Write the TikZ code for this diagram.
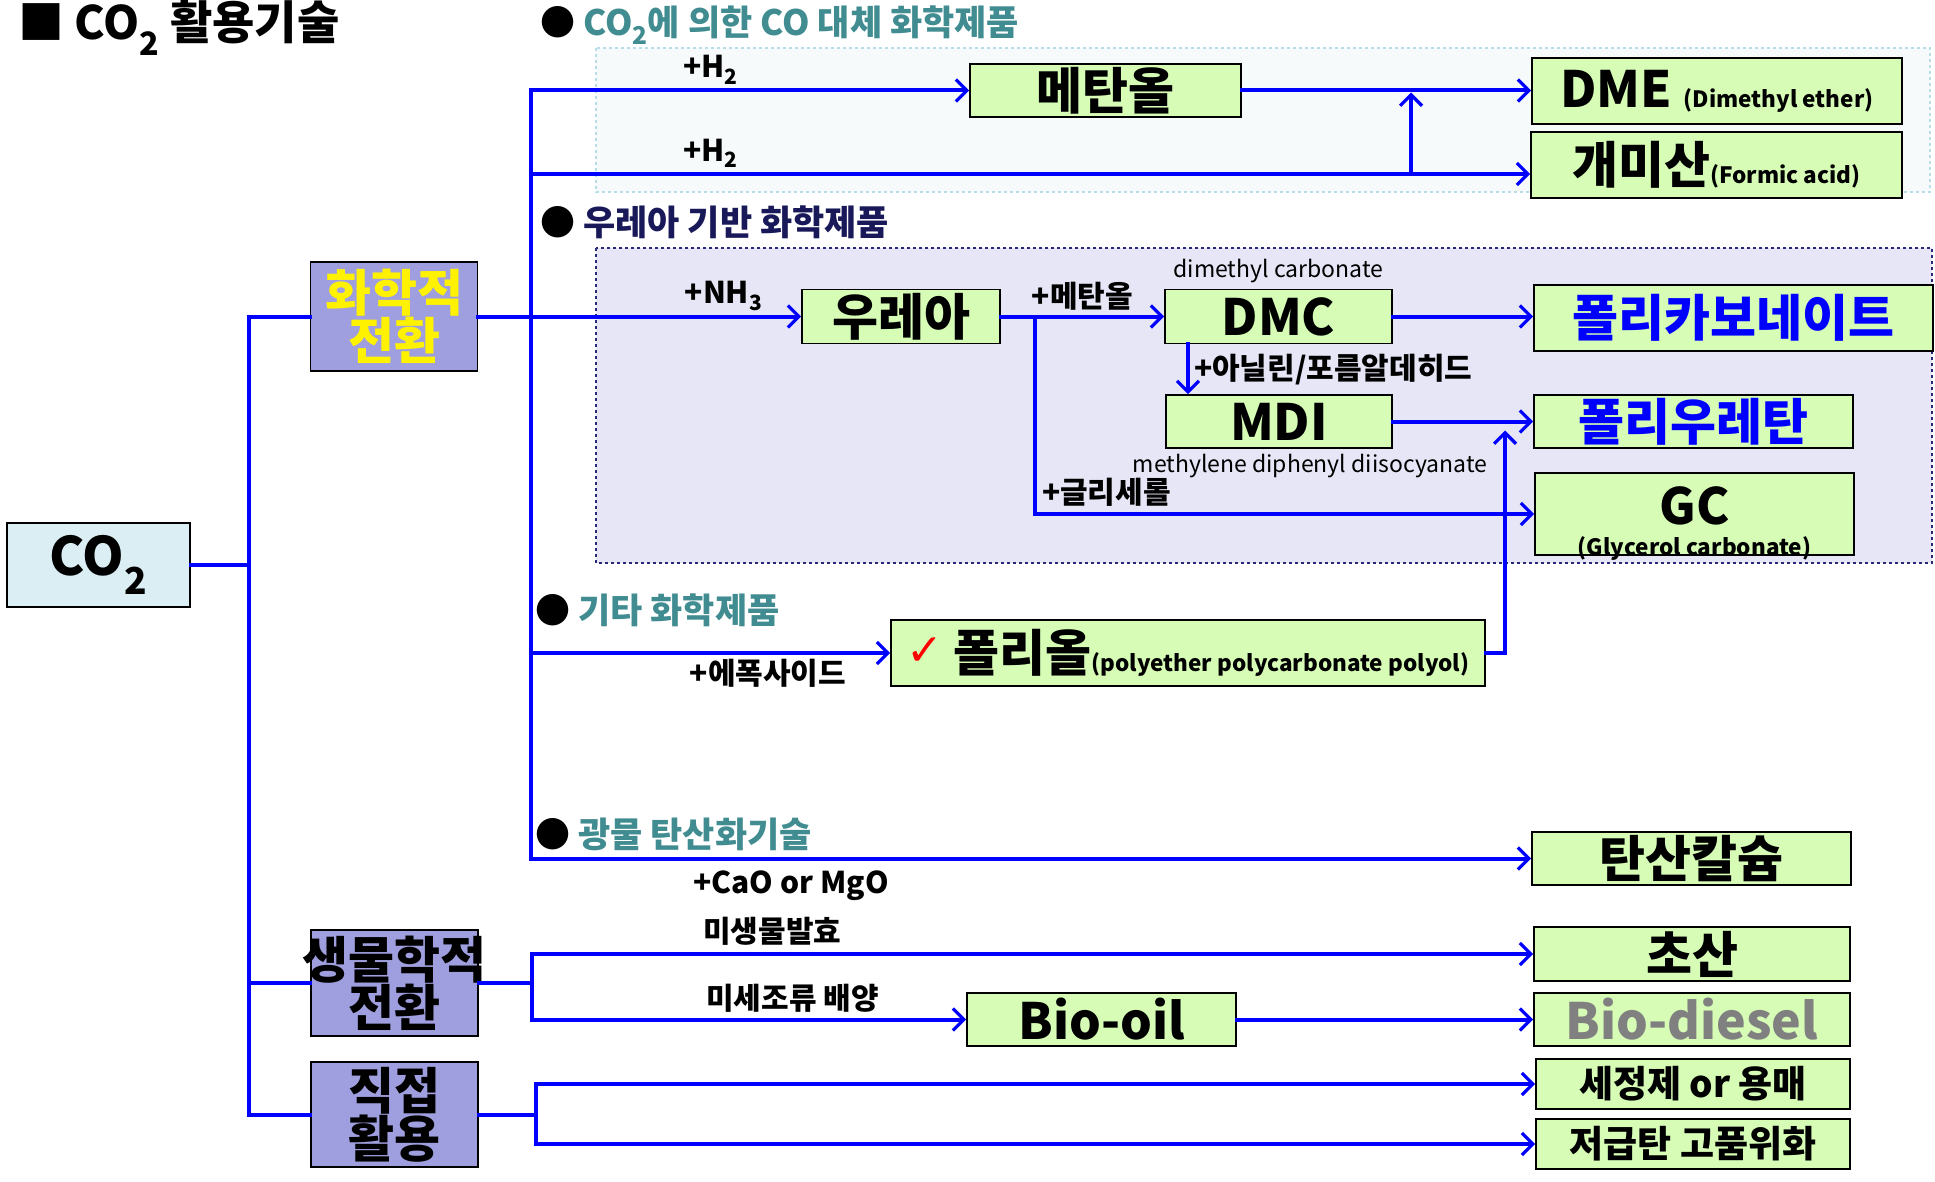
\documentclass[tikz,border=0pt]{standalone}
\usepackage{fontspec}
\setmainfont{Noto Sans CJK KR}
\newfontfamily\symfont{DejaVu Sans}
\usepackage{xcolor}
\usetikzlibrary{arrows.meta,positioning,calc}

\definecolor{boxgreen}{RGB}{214,252,182}
\definecolor{catblue}{RGB}{159,159,223}
\definecolor{co2cyan}{RGB}{218,238,243}
\definecolor{zoneA}{RGB}{246,250,251}
\definecolor{zoneAline}{RGB}{183,221,232}
\definecolor{zoneB}{RGB}{230,230,246}
\definecolor{zoneBline}{RGB}{40,40,120}
\definecolor{headteal}{RGB}{64,140,145}
\definecolor{headnavy}{RGB}{25,25,90}

\newcommand{\bigtxt}{\fontsize{50}{58}\selectfont\bfseries}
\newcommand{\midtxt}{\fontsize{37}{42}\selectfont\bfseries}
\newcommand{\smalltxt}{\fontsize{22.5}{26}\selectfont\bfseries}

\begin{document}
\begin{tikzpicture}[x=1pt,y=-1pt,
  box/.style={rectangle,draw,line width=1.8pt,fill=boxgreen,inner sep=0pt,align=center},
  catbox/.style={rectangle,draw,line width=1.8pt,fill=catblue,inner sep=0pt,align=center,minimum width=167pt},
  line/.style={blue,line width=4pt,line cap=rect},
  arr/.style={line,-{Straight Barb[length=11pt,width=22pt,line width=3.2pt]}},
  lbl/.style={font=\fontsize{30}{34}\selectfont\bfseries,text=black,inner sep=0pt},
  note/.style={font=\fontsize{23}{27}\selectfont,inner sep=0pt},
  head/.style={font=\fontsize{35}{40}\selectfont\bfseries,anchor=west,inner sep=0pt}
]
\useasboundingbox (0,0) rectangle (1935,1182);

\draw[zoneAline,fill=zoneA,line width=1.5pt,dashed] (596,48) rectangle (1930,192);
\draw[zoneBline,fill=zoneB,line width=1.5pt,dashed] (596,248) rectangle (1932,563);

\node[head,font=\fontsize{46}{52}\selectfont\bfseries] (title) at (18,28) {■ CO\textsubscript{2} 활용기술};
\node[head] (hco) at (540,25) {● \textcolor{headteal}{CO\textsubscript{2}에 의한 CO 대체 화학제품}};
\node[head] (hurea) at (540,222) {● \textcolor{headnavy}{우레아 기반 화학제품}};
\node[head] (hetc) at (535,610) {● \textcolor{headteal}{기타 화학제품}};
\node[head] (hmin) at (535,834) {● \textcolor{headteal}{광물 탄산화기술}};

\node[box,fill=co2cyan,minimum width=183pt,minimum height=84pt] (co2) at (98.5,565) {\fontsize{53}{60}\selectfont\bfseries CO\textsubscript{2}};
\node[catbox,minimum height=109pt,text=yellow] (chem) at (394,316.5) {\bigtxt 화학적\\\bigtxt 전환};
\node[catbox,minimum height=106pt] (bio) at (394.5,983) {\bigtxt\makebox[120pt]{생물학적}\\\bigtxt 전환};
\node[catbox,minimum height=105pt] (direct) at (394.5,1114.5) {\bigtxt 직접\\\bigtxt 활용};

\node[box,minimum width=271pt,minimum height=53pt] (meth) at (1105.5,90.5) {\bigtxt 메탄올};
\node[box,minimum width=370pt,minimum height=66pt] (dme) at (1717,91) {\bigtxt DME \smalltxt(Dimethyl ether)};
\node[box,minimum width=371pt,minimum height=66pt] (formic) at (1716.5,165) {\bigtxt 개미산\smalltxt(Formic acid)};

\node[box,minimum width=198pt,minimum height=54pt] (urea) at (901,316.5) {\bigtxt 우레아};
\node[box,minimum width=227pt,minimum height=54pt] (dmc) at (1278.5,316.5) {\bigtxt DMC};
\node[box,minimum width=226pt,minimum height=53pt] (mdi) at (1279,421.5) {\bigtxt MDI};
\node[box,minimum width=399pt,minimum height=66pt,text=blue] (pc) at (1733.5,318) {\bigtxt 폴리카보네이트};
\node[box,minimum width=319pt,minimum height=53pt,text=blue] (pu) at (1693.5,421.5) {\bigtxt 폴리우레탄};
\node[box,minimum width=319pt,minimum height=82pt,text depth=16pt,
  label={[font=\smalltxt,anchor=center,yshift=7pt]below:(Glycerol carbonate)}] (gc) at (1694.5,514) {\bigtxt GC};

\node[box,minimum width=594pt,minimum height=66pt] (polyol) at (1188,653)
  {\raisebox{6pt}{\symfont\fontsize{44}{48}\selectfont\textcolor{red}{✓}}\hspace{10pt}{\bigtxt 폴리올}\smalltxt(polyether polycarbonate polyol)};

\node[box,minimum width=319pt,minimum height=53pt] (caco3) at (1691.5,858.5) {\bigtxt 탄산칼슘};
\node[box,minimum width=316pt,minimum height=54pt] (acetic) at (1692,954) {\bigtxt 초산};
\node[box,minimum width=269pt,minimum height=53pt] (biooil) at (1101.5,1019.5) {\bigtxt Bio-oil};
\node[box,minimum width=316pt,minimum height=53pt,text=gray] (biodiesel) at (1692,1019.5) {\bigtxt Bio-diesel};
\node[box,minimum width=314pt,minimum height=50pt] (solvent) at (1693,1084) {\midtxt 세정제 or 용매};
\node[box,minimum width=314pt,minimum height=50pt] (coal) at (1693,1144) {\midtxt 저급탄 고품위화};

\node[note,above=6pt of dmc] (dmcname) {dimethyl carbonate};
\node[note,below=5pt of mdi,xshift=31pt] (mdiname) {methylene diphenyl diisocyanate};

\coordinate (trunkL) at (249,0);
\coordinate (trunkR) at (531,0);
\coordinate (up) at (1411,0);
\coordinate (gly) at (1035,0);
\coordinate (ani) at (1188,0);
\coordinate (pol) at (1505,0);
\coordinate (bioX) at (532,0);
\coordinate (dirX) at (536,0);
\coordinate (fin) at ([yshift=-9pt]formic.west);

\draw[line] (co2.east) -- (co2.east -| trunkL);
\draw[line] (chem.west) -| (direct.west -| trunkL) -- (direct.west);
\draw[line] (bio.west -| trunkL) -- (bio.west);

\draw[arr] (chem.east) -- node[lbl,above=4pt,pos=0.76]{+NH\textsubscript{3}} (chem.east -| urea.west);
\draw[arr] (meth.west -| trunkR) -- node[lbl,above=4pt,pos=0.41]{+H\textsubscript{2}} (meth.west);
\draw[line] (meth.west -| trunkR) -- (caco3.west -| trunkR);
\draw[arr] (fin -| trunkR) -- node[lbl,above=4pt,pos=0.18]{+H\textsubscript{2}} (fin);
\draw[arr,shorten >=2pt] (fin -| up) -- (meth.east -| up);
\draw[arr] (meth.east) -- (meth.east -| dme.west);

\draw[arr] (urea.east) -- node[lbl,above=4pt]{+메탄올} (urea.east -| dmc.west);
\draw[arr] (urea.east -| gly) |- node[lbl,pos=0.5,anchor=south west,xshift=5pt,yshift=6pt]{+글리세롤} (gc.west);
\draw[arr] (dmc.south -| ani) -- node[lbl,right=4pt]{+아닐린/포름알데히드} (mdi.north -| ani);
\draw[arr] (dmc.east) -- (dmc.east -| pc.west);
\draw[arr] (mdi.east) -- (mdi.east -| pu.west);

\draw[arr] (polyol.west -| trunkR) -- node[lbl,below=4pt,pos=0.66]{+에폭사이드} (polyol.west);
\draw[arr,shorten >=9pt] (polyol.east) -| (pu.west -| pol);

\draw[arr] (caco3.west -| trunkR) -- node[lbl,below=10pt,pos=0.26]{+CaO or MgO} (caco3.west);

\draw[line] (bio.east) -- (bio.east -| bioX);
\draw[arr] (biooil.west -| bioX) |- node[lbl,pos=0.62,above=7pt]{미생물발효} (acetic.west);
\draw[arr] (biooil.west -| bioX) -- node[lbl,pos=0.6,above=5pt]{미세조류 배양} (biooil.west);
\draw[arr] (biooil.east) -- (biodiesel.west);

\draw[line] (direct.east) -- (direct.east -| dirX);
\draw[arr] (coal.west -| dirX) |- (solvent.west);
\draw[arr] (coal.west -| dirX) -- (coal.west);
\end{tikzpicture}
\end{document}
